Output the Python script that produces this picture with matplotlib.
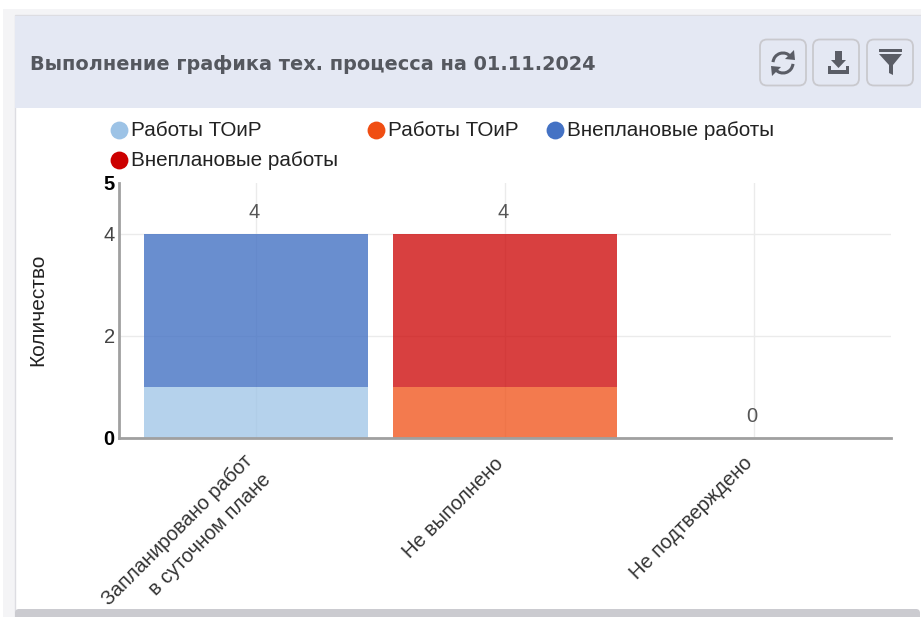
import matplotlib
matplotlib.use('Agg')
import matplotlib.pyplot as plt
from matplotlib.patches import Rectangle, FancyBboxPatch, Arc, Polygon

category_lines = ['Запланировано работ', 'в суточном плане', 'Не выполнено', 'Не подтверждено']
categories = ['Запланировано работ в суточном плане', 'Не выполнено', 'Не подтверждено']
toir_plan = [1, 0, 0]
toir_fail = [0, 1, 0]
unplanned_plan = [3, 0, 0]
unplanned_fail = [0, 3, 0]
totals = [4, 4, 0]
y_ticks = [0, 2, 4, 5]

title = 'Выполнение графика тех. процесса на 01.11.2024'
legend_labels = ['Работы ТОиР', 'Работы ТОиР', 'Внеплановые работы', 'Внеплановые работы']
legend_colors = ['#9DC3E6', '#F04E13', '#4472C4', '#CC0000']

W, H = 921, 617
plt.rcParams['font.family'] = ['Liberation Sans', 'DejaVu Sans']

fig = plt.figure(figsize=(W / 100, H / 100), dpi=100, facecolor='white')


def px_axes(zorder):
    a = fig.add_axes([0, 0, 1, 1], zorder=zorder)
    a.set_xlim(0, W)
    a.set_ylim(H, 0)
    a.axis('off')
    a.patch.set_alpha(0)
    return a


# card background
bg = px_axes(0)
bg.add_patch(Rectangle((3, 9), W, H, fc='#F4F4F6', ec='none'))
bg.add_patch(Rectangle((15, 15), W, H, fc='white', ec='#DDDDE2', lw=1))
bg.add_patch(Rectangle((15, 16), W, 92, fc='#E4E8F3', ec='none'))
bg.text(30, 64, title, family='DejaVu Sans', fontweight='bold', fontsize=13.9,
        color='#55585F', va='center', ha='left')

# chart
left, right, top, bottom = 119, 891, 183, 437.5
ax = fig.add_axes([left / W, 1 - bottom / H, (right - left) / W, (bottom - top) / H], zorder=1)
ax.patch.set_alpha(0)
xs = list(range(len(categories)))
bar_w = 0.9
ax.bar(xs, toir_plan, bar_w, color=legend_colors[0], alpha=0.75, lw=0)
ax.bar(xs, toir_fail, bar_w, color=legend_colors[1], alpha=0.75, lw=0)
ax.bar(xs, unplanned_plan, bar_w, bottom=toir_plan, color=legend_colors[2], alpha=0.8, lw=0)
ax.bar(xs, unplanned_fail, bar_w, bottom=toir_fail, color=legend_colors[3], alpha=0.75, lw=0)
ax.set_xlim(-0.55, 2.55)
ax.set_ylim(0, 5)
ax.set_axisbelow(True)
ax.grid(True, color='#EBEBEB', lw=1)
ax.set_yticks(y_ticks)
ax.get_ygridlines()[y_ticks.index(5)].set_visible(False)
ax.set_xticks(xs)
ax.set_xticklabels([])
for s in ['top', 'right']:
    ax.spines[s].set_visible(False)
for s in ['left', 'bottom']:
    ax.spines[s].set_color('#A0A0A0')
    ax.spines[s].set_linewidth(2)
ax.tick_params(length=0, pad=3)
ax.tick_params(axis='y', labelsize=14.5, labelcolor='#444444')
for lab, v in zip(ax.get_yticklabels(), y_ticks):
    if v in (0, 5):
        lab.set_fontweight('bold')
        lab.set_color('black')
for x, v in zip(xs, totals):
    ax.annotate(str(v), (x, v), xytext=(-2, 21), textcoords='offset pixels',
                ha='center', va='center', fontsize=14.5, color='#555555')

fg = px_axes(5)
fg.text(38, 310, 'Количество', rotation=90, fontsize=15, color='#222222', ha='center', va='center')

# rotated category labels, one text per line
label_pos = [(177, 530), (210, 535), (453.5, 508), (691, 518)]
for (lx, ly), c in zip(label_pos, category_lines):
    fg.text(lx, ly, c, rotation=45, rotation_mode='anchor', fontsize=14.4, color='#333333',
            ha='center', va='center')
fg.add_patch(FancyBboxPatch((15, 609), W - 16, 20, boxstyle='round,pad=0,rounding_size=4',
                            fc='#CBCBD0', ec='none', zorder=10))

# legend
legend_pos = [(119, 130), (376, 130), (555, 130), (119, 160)]
for (lx, ly), lab, col in zip(legend_pos, legend_labels, legend_colors):
    fg.scatter([lx], [ly], s=165, color=col, lw=0)
    fg.text(lx + 12, ly + 0.5, lab, fontsize=14.85, color='#222222', va='center', ha='left')

# toolbar buttons
for bx in [760, 813, 867]:
    fg.add_patch(FancyBboxPatch((bx, 39.5), 46, 46, boxstyle='round,pad=0,rounding_size=7',
                                fc='#E4E8F3', ec='#C9C9CE', lw=1.3))
icon = '#5A5D66'
fg.add_patch(Arc((783, 63), 20, 20, theta1=185, theta2=320, color=icon, lw=2.2))
fg.add_patch(Arc((783, 63), 20, 20, theta1=5, theta2=140, color=icon, lw=2.2))
fg.add_patch(Polygon([(794, 50), (795, 60), (785, 59)], fc=icon, ec='none'))
fg.add_patch(Polygon([(772, 76), (771, 66), (781, 67)], fc=icon, ec='none'))
fg.add_patch(Polygon([(835, 51), (842, 51), (842, 60), (846, 60), (838.5, 68), (831, 60), (835, 60)],
                     fc=icon, ec='none'))
fg.add_patch(Polygon([(828, 66), (831, 66), (831, 70), (846, 70), (846, 66), (849, 66), (849, 74), (828, 74)],
                     fc=icon, ec='none'))
fg.add_patch(Rectangle((879, 49), 23, 3, fc=icon, ec='none'))
fg.add_patch(Polygon([(879, 54), (902, 54), (893, 65), (893, 75), (889, 73), (889, 65)], fc=icon, ec='none'))

fig.savefig('out.png', dpi=100)
